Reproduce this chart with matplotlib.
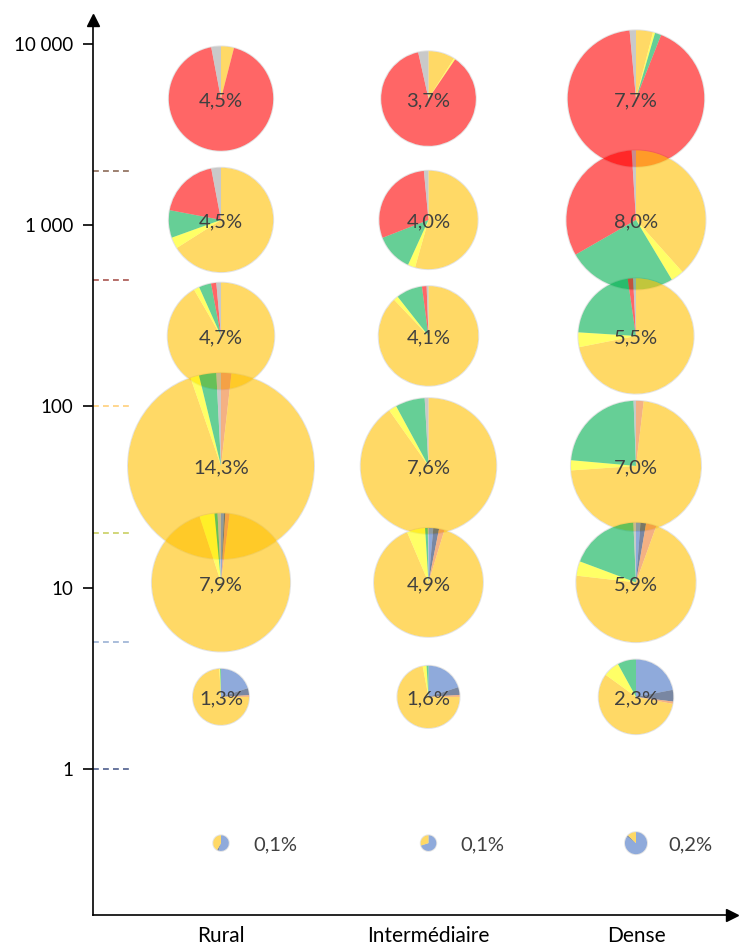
import matplotlib
matplotlib.use("Agg")
import matplotlib.pyplot as plt
import numpy as np
from matplotlib.patches import Wedge, Circle

plt.rcParams.update({
    "font.family": ["Lato", "DejaVu Sans"],
})

CATEGORIES = ["Rural", "Intermédiaire", "Dense"]
LEVELS = [5000, 1070, 245, 47, 10.7, 2.5, 0.39]

SHARE_RURAL = [4.5, 4.5, 4.7, 14.3, 7.9, 1.3, 0.1]
SHARE_INTER = [3.7, 4.0, 4.1, 7.6, 4.9, 1.6, 0.1]
SHARE_DENSE = [7.7, 8.0, 5.5, 7.0, 5.9, 2.3, 0.2]

# slice order (clockwise from 12 o'clock):
# light blue, dark blue, orange, gold, yellow, green, red, grey
MIX_RURAL = [
    [0, 0, 0, 4, 0, 0, 93, 3],
    [0, 0, 0, 66, 3.5, 8.5, 19, 3],
    [0, 0, 0, 91.6, 1.7, 3.7, 1.6, 1.4],
    [0, 0, 1.8, 92.9, 1.5, 3.0, 0, 0.8],
    [0.7, 0.3, 1.0, 93, 3.5, 0.7, 0, 0.8],
    [20, 4, 1, 74, 0.5, 0.5, 0, 0],
    [55, 3, 0, 42, 0, 0, 0, 0],
]
MIX_INTER = [
    [0, 0, 0, 9, 0.5, 0, 87, 3.5],
    [0, 0, 0, 54.4, 2.4, 12.3, 29.4, 1.5],
    [0, 0, 0, 87.9, 1.5, 8.5, 1.5, 0.6],
    [0, 0, 0, 90.2, 1.9, 7.0, 0, 0.9],
    [1.4, 1.7, 1.6, 88.9, 5.4, 0.8, 0, 0.2],
    [20, 4, 1, 72, 2, 1, 0, 0],
    [70, 0, 0, 30, 0, 0, 0, 0],
]
MIX_DENSE = [
    [0, 0, 0, 4, 0.5, 1.5, 92.5, 1.5],
    [0, 0, 0, 38.4, 3, 25.3, 32.3, 1],
    [0, 0, 0, 71.9, 4.1, 21.7, 1.5, 0.8],
    [0, 0, 1.9, 72, 2.5, 23, 0, 0.6],
    [1.2, 1.5, 2.8, 71.3, 3.9, 18.6, 0, 0.7],
    [22, 5, 1, 57, 7, 8, 0, 0],
    [85, 2, 0, 13, 0, 0, 0, 0],
]

SLICE_COLORS = ["#4472C4", "#203864", "#ED7D31", "#FFC000",
                "#FFFF00", "#00B050", "#FF0000", "#A6A6A6"]

BIN_EDGES = [1, 5, 20, 100, 500, 2000]
BIN_COLORS = ["#4f5f8e", "#9bb1d4", "#c9cf62", "#ffcf7a", "#a9554f", "#8c6b58"]

YTICKS = [1, 10, 100, 1000, 10000]
YTICK_LABELS = ["1", "10", "100", "1 000", "10 000"]

TEXT_COLOR = "#404040"
RADIUS_PX = 24.6   # pie radius per sqrt(percent)


def fmt_pct(v):
    return f"{v:.1f}%".replace(".", ",")


fig = plt.figure(figsize=(7.4, 9.51), dpi=100)
ax = fig.add_axes([93 / 740, 36 / 951, (732 - 93) / 740, (915 - 20) / 951])

ax.set_yscale("log")
ax.set_ylim(10 ** -0.8055, 10 ** 4.1324)
ax.set_xlim(0.3831, 3.4627)

for side in ["top", "right"]:
    ax.spines[side].set_visible(False)
ax.spines["left"].set_linewidth(1.2)
ax.spines["bottom"].set_linewidth(1.2)
ax.plot(1, 0, ">", color="black", markersize=8, transform=ax.transAxes, clip_on=False)
ax.plot(0, 1, "^", color="black", markersize=8, transform=ax.transAxes, clip_on=False)

ax.set_yticks(YTICKS)
ax.set_yticklabels(YTICK_LABELS)
ax.yaxis.set_minor_locator(matplotlib.ticker.NullLocator())
ax.tick_params(axis="y", length=7, width=1.2, pad=7, labelsize=13.5, colors="black")

xs = np.arange(1, len(CATEGORIES) + 1)
ax.set_xticks(xs)
ax.set_xticklabels(CATEGORIES)
ax.tick_params(axis="x", length=0, pad=8, labelsize=15)

for edge, col in zip(BIN_EDGES, BIN_COLORS):
    ax.plot([0, 0.058], [edge, edge], color=col, linewidth=1.2,
            linestyle=(0, (3.5, 2.5)), transform=ax.get_yaxis_transform(),
            clip_on=False)

columns = [(SHARE_RURAL, MIX_RURAL), (SHARE_INTER, MIX_INTER), (SHARE_DENSE, MIX_DENSE)]
to_inch = fig.dpi_scale_trans

for row, level in enumerate(LEVELS):
    for x, (shares, mixes) in zip(xs, columns):
        cx, cy = ax.transData.transform((x, level)) / fig.dpi
        r = RADIUS_PX * np.sqrt(shares[row]) / fig.dpi
        mix = np.array(mixes[row], dtype=float)
        mix = mix / mix.sum() * 360.0
        fig.add_artist(Circle((cx, cy), r + 0.4 / fig.dpi, facecolor="none",
                              edgecolor="#e4e4e4", linewidth=0.8,
                              transform=to_inch, zorder=2))
        start = 0.0
        for ang, col in zip(mix, SLICE_COLORS):
            if ang <= 0:
                continue
            t1 = 90 - (start + ang)
            t2 = 90 - start
            fig.add_artist(Wedge((cx, cy), r, t1, t2, facecolor=col, alpha=0.6,
                                 linewidth=0, transform=to_inch, zorder=3))
            start += ang

        label = fmt_pct(shares[row])
        ty = cy - 2 / fig.dpi
        if row == len(LEVELS) - 1:
            fig.text(cx + 54 / fig.dpi, ty, label, transform=to_inch, ha="center",
                     va="center", fontsize=14.5, color=TEXT_COLOR, zorder=5)
        else:
            fig.text(cx, ty, label, transform=to_inch, ha="center",
                     va="center", fontsize=14.5, color=TEXT_COLOR, zorder=5)

fig.savefig("out.png", dpi=100)
